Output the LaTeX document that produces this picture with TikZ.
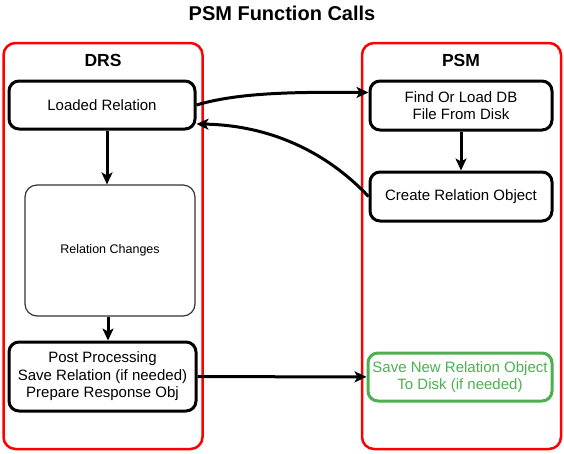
\documentclass[tikz,border=0pt]{standalone}
\usepackage{fontspec}
\setmainfont{Liberation Sans}
\usetikzlibrary{arrows.meta}
\definecolor{lanered}{HTML}{FF0000}
\definecolor{savegreen}{HTML}{4CB050}

\begin{document}
\begin{tikzpicture}[x=1pt, y=-1pt,
    lane/.style={draw=lanered, line width=2.5pt, rounded corners=12pt, minimum width=199pt, minimum height=406pt},
    lanehead/.style={font=\fontsize{17.5}{20}\selectfont\bfseries},
    stepbox/.style={draw, line width=3pt, rounded corners=10pt, align=center, font=\fontsize{15}{17.5}\selectfont},
    flow/.style={-{Stealth[length=12pt, width=11pt, inset=3pt]}, line width=3pt}]
    \useasboundingbox (0,0) rectangle (564,453);

    % Title
    \node[font=\fontsize{20}{24}\selectfont\bfseries] (title) at (282,13) {PSM Function Calls};

    % DRS lane (left)
    \node[lane] (drs) at (103,246) {};
    \node[lanehead] (drshead) at (103,60) {DRS};

    % PSM lane (right)
    \node[lane] (psm) at (461.5,246) {};
    \node[lanehead] (psmhead) at (461,60) {PSM};

    % DRS steps
    \node[stepbox, minimum width=186pt, minimum height=48pt] (load) at (102,105) {Loaded Relation};
    \node[draw=black!80, line width=1.2pt, rounded corners=12pt, minimum width=170pt, minimum height=131pt,
          font=\fontsize{12.5}{15}\selectfont] (changes) at (110,250.5) {Relation Changes};
    \node[stepbox, minimum width=187pt, minimum height=69pt] (post) at (102.5,376.5) {
        Post Processing\\
        Save Relation (if needed)\\
        Prepare Response Obj
    };

    % PSM steps
    \node[stepbox, minimum width=182pt, minimum height=49pt] (find) at (461,105.5) {
        Find Or Load DB\\
        File From Disk
    };
    \node[stepbox, minimum width=182pt, minimum height=49pt] (create) at (461,196.5) {Create Relation Object};
    \node[stepbox, draw=savegreen, text=savegreen, minimum width=184pt, minimum height=48pt] (save) at (460,377) {
        Save New Relation Object\\
        To Disk (if needed)
    };

    % Connectors
    \draw[flow] (load.east) .. controls (240,92) and (300,92) .. ([yshift=13pt]find.west);
    \draw[flow] (create.west) .. controls (320,145) and (260,125) .. ([yshift=-19pt]load.east);
    \draw[flow] ([xshift=5pt]load.south) -- ([xshift=5pt]load.south |- changes.north);
    \draw[flow] ([xshift=-2pt]changes.south) -- ([xshift=-2pt]changes.south |- post.north);
    \draw[flow] (find) -- (create);
    \draw[flow] (post) -- (save);
\end{tikzpicture}
\end{document}
